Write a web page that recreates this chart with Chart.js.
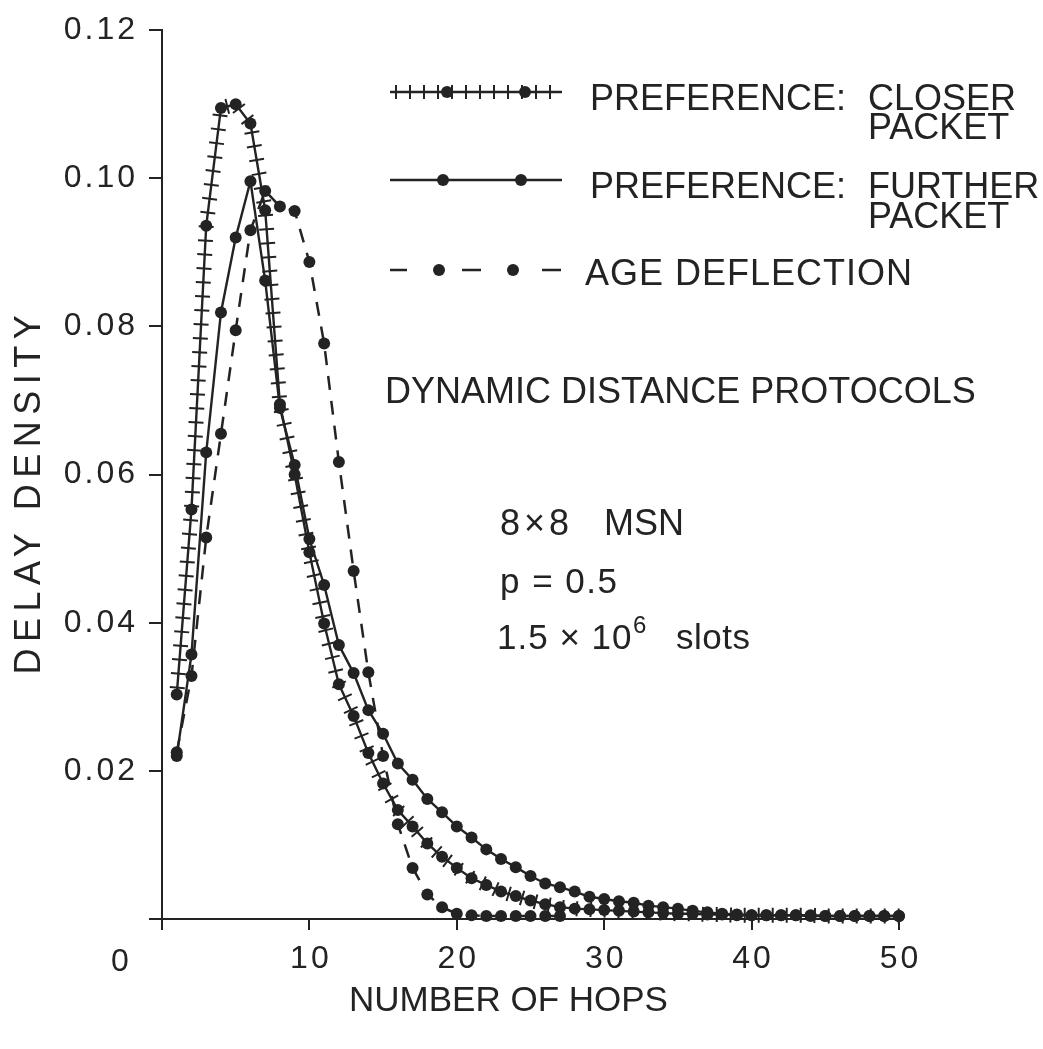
<!DOCTYPE html>
<html>
<head>
<meta charset="utf-8">
<script src="https://cdn.jsdelivr.net/npm/chart.js@4.4.1/dist/chart.umd.min.js"></script>
<style>
  html, body { margin: 0; padding: 0; background: #ffffff; }
  #wrap { width: 1043px; height: 1049px; position: relative; }
  canvas { display: block; }
</style>
</head>
<body>
<div id="wrap"><canvas id="c" width="1043" height="1049"></canvas></div>
<script>
// ---------------- DATA ----------------
const hops = [1,2,3,4,5,6,7,8,9,10,11,12,13,14,15,16,17,18,19,20,21,22,23,24,25,26,27,28,29,30,31,32,33,34,35,36,37,38,39,40,41,42,43,44,45,46,47,48,49,50];

const closerPacket = [0.0303,0.0553,0.0936,0.1095,0.1100,0.1074,0.0957,0.0695,0.0600,0.0495,
                      0.0399,0.0317,0.0274,0.0224,0.0183,0.0147,0.0125,0.0102,0.0084,0.0069,
                      0.0055,0.0046,0.0037,0.0031,0.0025,0.0020,0.0016,0.0014,0.0013,0.0012,
                      0.0011,0.0010,0.0009,0.0008,0.0007,0.0007,0.0006,0.0006,0.0005,0.0005,
                      0.0005,0.0005,0.0005,0.0005,0.0004,0.0004,0.0004,0.0004,0.0004,0.0004];

const furtherPacket = [0.0220,0.0357,0.0630,0.0819,0.0920,0.0996,0.0862,0.0690,0.0613,0.0513,
                       0.0451,0.0370,0.0332,0.0282,0.0250,0.0210,0.0188,0.0162,0.0144,0.0125,
                       0.0110,0.0094,0.0081,0.0070,0.0058,0.0048,0.0043,0.0037,0.0030,0.0027,
                       0.0024,0.0022,0.0018,0.0016,0.0014,0.0011,0.0009,0.0007,0.0006,0.0005,
                       0.0005,0.0005,0.0005,0.0004,0.0004,0.0004,0.0004,0.0004,0.0004,0.0004];

const ageHops = [1,2,3,4,5,6,7,8,9,10,11,12,13,14,15,16,17,18,19,20,21,22,23,24,25,26,27];
const ageDeflection = [0.0225,0.0328,0.0515,0.0655,0.0795,0.0930,0.0983,0.0962,0.0956,0.0887,
                       0.0777,0.0617,0.0470,0.0333,0.0220,0.0128,0.0069,0.0033,0.0016,0.0007,
                       0.0005,0.0004,0.0004,0.0004,0.0004,0.0004,0.0004];

const xTickValues = [0,10,20,30,40,50];
const yTickValues = [0.02,0.04,0.06,0.08,0.10,0.12];

const legendParts = [
  ['PREFERENCE:', 'CLOSER', 'PACKET'],
  ['PREFERENCE:', 'FURTHER', 'PACKET'],
  ['AGE DEFLECTION']
];
const xTitle = 'NUMBER OF HOPS';
const yTitle = 'DELAY DENSITY';
const noteTitle = 'DYNAMIC DISTANCE PROTOCOLS';
const noteNetwork = ['8×8', 'MSN'];
const noteP = 'p = 0.5';
const noteSlots = ['1.5 × 10', '6', 'slots'];

// ---------------- STYLE ----------------
const INK = '#232323';
const FONT = "'Liberation Sans', Arial, Helvetica, sans-serif";

function toPoints(xs, ys) { return ys.map((v, i) => ({ x: xs[i], y: v })); }

// wrap scale drawing to add letter spacing / small title offsets
function wrapScale(scale, name, spacing, dx, dy) {
  const orig = scale[name].bind(scale);
  scale[name] = function (...a) {
    const c = scale.ctx;
    c.save();
    c.letterSpacing = spacing + 'px';
    c.translate(dx, dy);
    orig(...a);
    c.restore();
  };
}
const scaleStylePlugin = {
  id: 'scaleStyle',
  beforeDraw(chart) {
    const sx = chart.scales.x, sy = chart.scales.y;
    if (!sx._styled) {
      wrapScale(sx, 'drawLabels', 3, 1.5, 0);
      wrapScale(sx, 'drawTitle', 0, -22, 0);
      sx._styled = true;
    }
    if (!sy._styled) {
      wrapScale(sy, 'drawLabels', 3, 0, 0);
      wrapScale(sy, 'drawTitle', 6.5, 0, 17);
      sy._styled = true;
    }
  }
};

// perpendicular cross bars along the "closer packet" curve
const crossTicksPlugin = {
  id: 'crossTicks',
  afterDatasetsDraw(chart, args, opts) {
    const meta = chart.getDatasetMeta(opts.datasetIndex);
    const pts = meta.data;
    const ctx = chart.ctx;
    const h = opts.half, sp = opts.spacing;
    ctx.save();
    ctx.strokeStyle = INK;
    ctx.lineWidth = 2;
    ctx.beginPath();
    let next = sp / 2, acc = 0;
    for (let i = 1; i < pts.length; i++) {
      const a = pts[i - 1], b = pts[i];
      const dx = b.x - a.x, dy = b.y - a.y, L = Math.hypot(dx, dy);
      if (L === 0) continue;
      const nx = -dy / L, ny = dx / L;
      while (next <= acc + L) {
        const t = (next - acc) / L;
        const px = a.x + dx * t, py = a.y + dy * t;
        ctx.moveTo(px - nx * h, py - ny * h);
        ctx.lineTo(px + nx * h, py + ny * h);
        next += sp;
      }
      acc += L;
    }
    ctx.stroke();
    ctx.restore();
  }
};

function txt(ctx, s, x, yc, size, spacing, align) {
  ctx.font = size + 'px ' + FONT;
  ctx.letterSpacing = (spacing || 0) + 'px';
  ctx.textAlign = align || 'left';
  ctx.textBaseline = 'alphabetic';
  ctx.fillStyle = INK;
  ctx.fillText(s, x, yc + size * 0.36);
}

// legend block and annotations
const annotationPlugin = {
  id: 'annotations',
  afterDraw(chart) {
    const ctx = chart.ctx;
    const ds = chart.data.datasets;
    ctx.save();
    // corner "0" label
    const x0 = chart.scales.x.getPixelForValue(xTickValues[0]);
    txt(ctx, String(xTickValues[0]), x0 - 42, 959, 32, 0, 'center');

    // legend symbols
    const x1 = 390, x2 = 562;
    const rows = [92, 180, 270];
    ctx.strokeStyle = INK; ctx.fillStyle = INK;
    // row 1: crossed line with dots
    ctx.lineWidth = ds[0].borderWidth;
    ctx.beginPath(); ctx.moveTo(x1, rows[0]); ctx.lineTo(x2, rows[0]); ctx.stroke();
    ctx.lineWidth = 2;
    ctx.beginPath();
    for (let x = x1 + 6; x < x2; x += 14) { ctx.moveTo(x, rows[0] - 7); ctx.lineTo(x, rows[0] + 7); }
    ctx.stroke();
    [447, 525].forEach(x => { ctx.beginPath(); ctx.arc(x, rows[0], ds[0].pointRadius, 0, Math.PI * 2); ctx.fill(); });
    // row 2: solid line with dots
    ctx.lineWidth = ds[1].borderWidth;
    ctx.beginPath(); ctx.moveTo(x1, rows[1]); ctx.lineTo(x2, rows[1]); ctx.stroke();
    [443, 521].forEach(x => { ctx.beginPath(); ctx.arc(x, rows[1], ds[1].pointRadius, 0, Math.PI * 2); ctx.fill(); });
    // row 3: dashes and dots
    ctx.lineWidth = ds[2].borderWidth;
    ctx.beginPath();
    [[390, 407], [462, 481], [542, 561]].forEach(([a, b]) => { ctx.moveTo(a, rows[2]); ctx.lineTo(b, rows[2]); });
    ctx.stroke();
    [439, 513].forEach(x => { ctx.beginPath(); ctx.arc(x, rows[2], ds[2].pointRadius, 0, Math.PI * 2); ctx.fill(); });

    // legend texts
    txt(ctx, legendParts[0][0], 590, 97, 36, 0);
    txt(ctx, legendParts[0][1], 868, 97, 36, 0);
    txt(ctx, legendParts[0][2], 868, 126, 36, 0);
    txt(ctx, legendParts[1][0], 590, 185, 36, 0);
    txt(ctx, legendParts[1][1], 868, 185, 36, 0);
    txt(ctx, legendParts[1][2], 868, 215, 36, 0);
    txt(ctx, legendParts[2][0], 585, 272, 36, 1);

    // notes
    txt(ctx, noteTitle, 385, 390, 36, 0);
    txt(ctx, noteNetwork[0], 500, 522, 36, 4);
    txt(ctx, noteNetwork[1], 604, 522, 36, 0);
    txt(ctx, noteP, 500, 580, 35, 1.5);
    txt(ctx, noteSlots[0], 497, 636, 35, 1);
    txt(ctx, noteSlots[1], 633, 624, 24, 0);
    txt(ctx, noteSlots[2], 676, 636, 35, 0.5);
    ctx.restore();
  }
};

const pointStyle = { pointRadius: 6, pointHoverRadius: 6, pointBorderWidth: 0, pointBackgroundColor: INK };

new Chart(document.getElementById('c'), {
  type: 'line',
  data: {
    datasets: [
      Object.assign({ label: legendParts[0].join(' '), data: toPoints(hops, closerPacket),
        borderColor: INK, backgroundColor: INK, borderWidth: 2.4, tension: 0, clip: false, order: 0 }, pointStyle),
      Object.assign({ label: legendParts[1].join(' '), data: toPoints(hops, furtherPacket),
        borderColor: INK, backgroundColor: INK, borderWidth: 2.4, tension: 0, clip: false, order: 1 }, pointStyle),
      Object.assign({ label: legendParts[2].join(' '), data: toPoints(ageHops, ageDeflection),
        borderColor: INK, backgroundColor: INK, borderWidth: 2.5, borderDash: [14, 11], tension: 0, clip: false, order: 2 }, pointStyle)
    ]
  },
  options: {
    responsive: false,
    animation: false,
    events: [],
    layout: { padding: { left: 0, top: 25, right: 144, bottom: 0 } },
    plugins: {
      legend: { display: false },
      tooltip: { enabled: false },
      crossTicks: { datasetIndex: 0, spacing: 14, half: 7.5 }
    },
    scales: {
      x: {
        type: 'linear', min: 0, max: 50,
        afterBuildTicks: s => { s.ticks = xTickValues.map(v => ({ value: v })); },
        ticks: { color: INK, font: { family: FONT, size: 32 }, padding: 10, maxRotation: 0, autoSkip: false,
                 callback: v => (v === 0 ? '' : String(v)) },
        grid: { drawOnChartArea: false, drawTicks: true, tickLength: 11, color: INK, lineWidth: 2 },
        border: { display: true, color: INK, width: 2 },
        title: { display: true, text: xTitle, color: INK, font: { family: FONT, size: 35 }, padding: { top: 0, bottom: 27 } },
        afterFit: s => { s.height = 130; }
      },
      y: {
        type: 'linear', min: 0, max: 0.12,
        afterBuildTicks: s => { s.ticks = [0].concat(yTickValues).map(v => ({ value: v })); },
        ticks: { color: INK, font: { family: FONT, size: 32 }, padding: 11, autoSkip: false,
                 callback: v => (v === 0 ? '' : v.toFixed(2)) },
        grid: { drawOnChartArea: false, drawTicks: true, tickLength: 13, color: INK, lineWidth: 2 },
        border: { display: true, color: INK, width: 2 },
        title: { display: true, text: yTitle, color: INK, font: { family: FONT, size: 36 }, padding: { top: 8, bottom: 0 } },
        afterFit: s => { s.width = 162; }
      }
    }
  },
  plugins: [scaleStylePlugin, crossTicksPlugin, annotationPlugin]
});
</script>
</body>
</html>
